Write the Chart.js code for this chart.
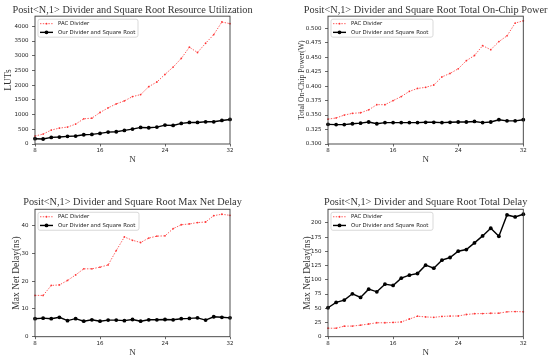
<!DOCTYPE html>
<html>
<head>
<meta charset="utf-8">
<script src="https://cdn.jsdelivr.net/npm/chart.js@4.4.1/dist/chart.umd.min.js"></script>
<style>
  html, body { margin: 0; padding: 0; background: #ffffff; }
  body { width: 550px; height: 360px; position: relative; overflow: hidden; }
  canvas { position: absolute; }
</style>
</head>
<body>
<canvas id="c1" width="275" height="180" style="left:0;top:0"></canvas>
<canvas id="c2" width="275" height="180" style="left:275px;top:0"></canvas>
<canvas id="c3" width="275" height="180" style="left:0;top:180px"></canvas>
<canvas id="c4" width="275" height="180" style="left:275px;top:180px"></canvas>
<script>
// ---------- data ----------
const N = [8, 9, 10, 11, 12, 13, 14, 15, 16, 17, 18, 19, 20, 21, 22, 23, 24, 25, 26, 27, 28, 29, 30, 31, 32];
const nTicks = [8, 16, 24, 32];

const pacLUTs = [270, 338, 473, 540, 575, 676, 856, 879, 1070, 1228, 1363, 1465, 1611, 1679, 1949, 2107, 2366, 2614, 2907, 3290, 3110, 3425, 3718, 4146, 4090];
const ourLUTs = [180, 170, 225, 237, 260, 270, 315, 327, 360, 405, 417, 462, 507, 563, 552, 575, 642, 631, 700, 732, 732, 755, 755, 800, 834];
const lutTicks = [0, 500, 1000, 1500, 2000, 2500, 3000, 3500, 4000];

const pacPower = [0.343, 0.345, 0.350, 0.353, 0.354, 0.359, 0.368, 0.368, 0.375, 0.382, 0.391, 0.396, 0.398, 0.402, 0.416, 0.422, 0.430, 0.444, 0.453, 0.470, 0.463, 0.477, 0.487, 0.509, 0.513];
const ourPower = [0.334, 0.3335, 0.3335, 0.335, 0.336, 0.338, 0.335, 0.337, 0.337, 0.337, 0.337, 0.337, 0.3375, 0.3375, 0.337, 0.3375, 0.338, 0.338, 0.339, 0.337, 0.338, 0.342, 0.340, 0.340, 0.342];
const powerTicks = [0.300, 0.325, 0.350, 0.375, 0.400, 0.425, 0.450, 0.475, 0.500];

const pacMaxNetDelay = [14.9, 14.9, 18.5, 18.7, 20.3, 22.3, 24.5, 24.5, 25.1, 25.9, 31.1, 36.0, 34.8, 34.0, 35.6, 36.3, 36.4, 39.0, 40.4, 40.7, 41.2, 41.4, 43.7, 44.2, 43.8];
const ourMaxNetDelay = [6.5, 6.7, 6.5, 7.0, 5.8, 6.5, 5.6, 6.1, 5.6, 6.0, 6.0, 5.8, 6.2, 5.6, 6.1, 6.1, 6.2, 6.1, 6.5, 6.6, 6.8, 6.0, 7.2, 7.0, 6.8];
const netDelayTicks = [0, 10, 20, 30, 40];

const pacTotalDelay = [14.9, 14.9, 18.5, 18.7, 20.3, 22.3, 24.5, 24.5, 25.1, 25.9, 31.1, 36.0, 34.8, 34.0, 35.6, 36.3, 36.4, 39.0, 40.4, 40.7, 41.2, 41.4, 43.7, 44.2, 43.8];
const ourTotalDelay = [50.9, 60.2, 64.3, 75.4, 69.0, 83.6, 78.9, 92.4, 90.1, 102.9, 108.2, 111.1, 125.7, 120.5, 134.5, 139.2, 150.3, 153.2, 164.9, 177.2, 190.6, 176.6, 214.0, 210.5, 215.2];
const totalDelayTicks = [0, 25, 50, 75, 100, 125, 150, 175, 200];

const seriesNames = ['PAC Divider', 'Our Divider and Square Root'];

// ---------- plugins ----------
const wideTitle = {
  id: 'wideTitle',
  afterLayout(chart) {
    const t = chart.titleBlock;
    if (t) { t.left -= 40; t.right += 40; }
  }
};

const framePlugin = {
  id: 'frame',
  afterDatasetsDraw(chart) {
    const a = chart.chartArea, ctx = chart.ctx;
    ctx.save();
    ctx.strokeStyle = '#3a3a3a';
    ctx.lineWidth = 0.9;
    ctx.strokeRect(a.left, a.top, a.right - a.left, a.bottom - a.top);
    ctx.restore();
  }
};

const boxLegend = {
  id: 'boxLegend',
  afterDraw(chart, args, o) {
    const a = chart.chartArea, ctx = chart.ctx;
    const x = a.left + 3, y = a.top + 3, w = o.width || 100, h = 18;
    ctx.save();
    ctx.beginPath();
    ctx.roundRect(x, y, w, h, 2);
    ctx.fillStyle = 'rgba(255,255,255,0.85)';
    ctx.fill();
    ctx.strokeStyle = '#cfcfcf';
    ctx.lineWidth = 0.8;
    ctx.stroke();
    chart.data.datasets.forEach((ds, i) => {
      const cy = y + 4.5 + i * 8.7;
      ctx.beginPath();
      ctx.setLineDash(ds.borderDash || []);
      ctx.strokeStyle = ds.borderColor;
      ctx.lineWidth = ds.borderWidth;
      ctx.moveTo(x + 2, cy);
      ctx.lineTo(x + 15, cy);
      ctx.stroke();
      ctx.setLineDash([]);
      ctx.beginPath();
      ctx.arc(x + 8.5, cy, ds.pointRadius, 0, Math.PI * 2);
      ctx.fillStyle = ds.pointBackgroundColor;
      ctx.fill();
      ctx.font = '5.4px "DejaVu Sans"';
      ctx.fillStyle = '#222';
      ctx.textBaseline = 'middle';
      ctx.textAlign = 'left';
      ctx.fillText(ds.label, x + 20, cy + 0.3);
    });
    ctx.restore();
  }
};

// ---------- builder ----------
function makeChart(id, cfg) {
  const pts = arr => N.map((n, i) => ({ x: n, y: arr[i] }));
  const datasets = [
    {
      label: seriesNames[0], data: pts(cfg.pac),
      borderColor: 'rgba(255,40,40,0.85)', backgroundColor: 'rgba(255,40,40,0.85)',
      borderWidth: 0.9, borderDash: [1.4, 1.4],
      pointRadius: 0.9, pointBackgroundColor: 'rgba(255,40,40,0.9)', pointBorderWidth: 0,
      tension: 0, clip: false
    },
    {
      label: seriesNames[1], data: pts(cfg.our),
      borderColor: '#000000', backgroundColor: '#000000',
      borderWidth: 1.4,
      pointRadius: 1.9, pointBackgroundColor: '#000000', pointBorderWidth: 0,
      tension: 0, clip: false
    }
  ];
  const tickFont = { family: 'DejaVu Sans', size: 5.5 };
  return new Chart(document.getElementById(id), {
    type: 'line',
    data: { datasets },
    options: {
      responsive: false, animation: false, devicePixelRatio: 1,
      layout: { padding: cfg.pad },
      plugins: {
        legend: { display: false },
        tooltip: { enabled: false },
        title: {
          display: true, text: cfg.title, fullSize: false,
          font: { family: 'Liberation Serif', size: 10.3, weight: 'normal' },
          color: '#333', padding: cfg.titlePad
        },
        boxLegend: { width: cfg.legendW }
      },
      scales: {
        x: {
          type: 'linear', min: 8, max: 32,
          afterBuildTicks: s => { s.ticks = nTicks.map(v => ({ value: v })); },
          afterFit: s => { s.height = cfg.xH; },
          grid: { drawOnChartArea: false, drawTicks: true, tickLength: 2.5, color: '#444', lineWidth: 0.8 },
          border: { display: false },
          ticks: { font: tickFont, color: '#222', padding: 1, maxRotation: 0 },
          title: { display: true, text: 'N', font: { family: 'Liberation Serif', size: 9 }, color: '#333', padding: 0 }
        },
        y: {
          type: 'linear', min: cfg.ymin, max: cfg.ymax,
          afterBuildTicks: s => { s.ticks = cfg.yTicks.map(v => ({ value: v })); },
          afterFit: s => { s.width = cfg.yW; },
          grid: { drawOnChartArea: false, drawTicks: true, tickLength: 3, color: '#444', lineWidth: 0.8 },
          border: { display: false },
          ticks: { font: tickFont, color: '#222', padding: 3.5, callback: cfg.fmt },
          title: { display: true, text: cfg.ylabel, font: { family: 'Liberation Serif', size: cfg.ylabelSize }, color: '#333', padding: 0 }
        }
      }
    },
    plugins: [wideTitle, framePlugin, boxLegend]
  });
}

makeChart('c1', {
  title: 'Posit<N,1> Divider and Square Root Resource Utilization',
  pac: pacLUTs, our: ourLUTs, yTicks: lutTicks, ymin: 0, ymax: 4345,
  ylabel: 'LUTs', ylabelSize: 9.5, fmt: v => String(v),
  pad: { left: 2.6, right: 45, top: 0, bottom: 14.6 }, titlePad: { top: 3.8, bottom: 0 },
  yW: 32.4, xH: 21.4, legendW: 100
});
makeChart('c2', {
  title: 'Posit<N,1> Divider and Square Root Total On-Chip Power',
  pac: pacPower, our: ourPower, yTicks: powerTicks, ymin: 0.3, ymax: 0.521,
  ylabel: 'Total On-Chip Power(W)', ylabelSize: 7.8, fmt: v => Number(v).toFixed(3),
  pad: { left: 22.3, right: 26.7, top: 0, bottom: 14.6 }, titlePad: { top: 3.8, bottom: 0 },
  yW: 30.7, xH: 21.4, legendW: 102
});
makeChart('c3', {
  title: 'Posit<N,1> Divider and Square Root Max Net Delay',
  pac: pacMaxNetDelay, our: ourMaxNetDelay, yTicks: netDelayTicks, ymin: 0, ymax: 46,
  ylabel: 'Max Net Delay(ns)', ylabelSize: 9.5, fmt: v => String(v),
  pad: { left: 10.3, right: 45, top: 0, bottom: 2.3 }, titlePad: { top: 16.5, bottom: 0.4 },
  yW: 24.7, xH: 21, legendW: 101
});
makeChart('c4', {
  title: 'Posit<N,1> Divider and Square Root Total Delay',
  pac: pacTotalDelay, our: ourTotalDelay, yTicks: totalDelayTicks, ymin: 0, ymax: 224,
  ylabel: 'Max Net Delay(ns)', ylabelSize: 9.5, fmt: v => String(v),
  pad: { left: 26.6, right: 26.7, top: 0, bottom: 2.3 }, titlePad: { top: 16.5, bottom: 0.4 },
  yW: 26.4, xH: 21, legendW: 102
});
</script>
</body>
</html>
